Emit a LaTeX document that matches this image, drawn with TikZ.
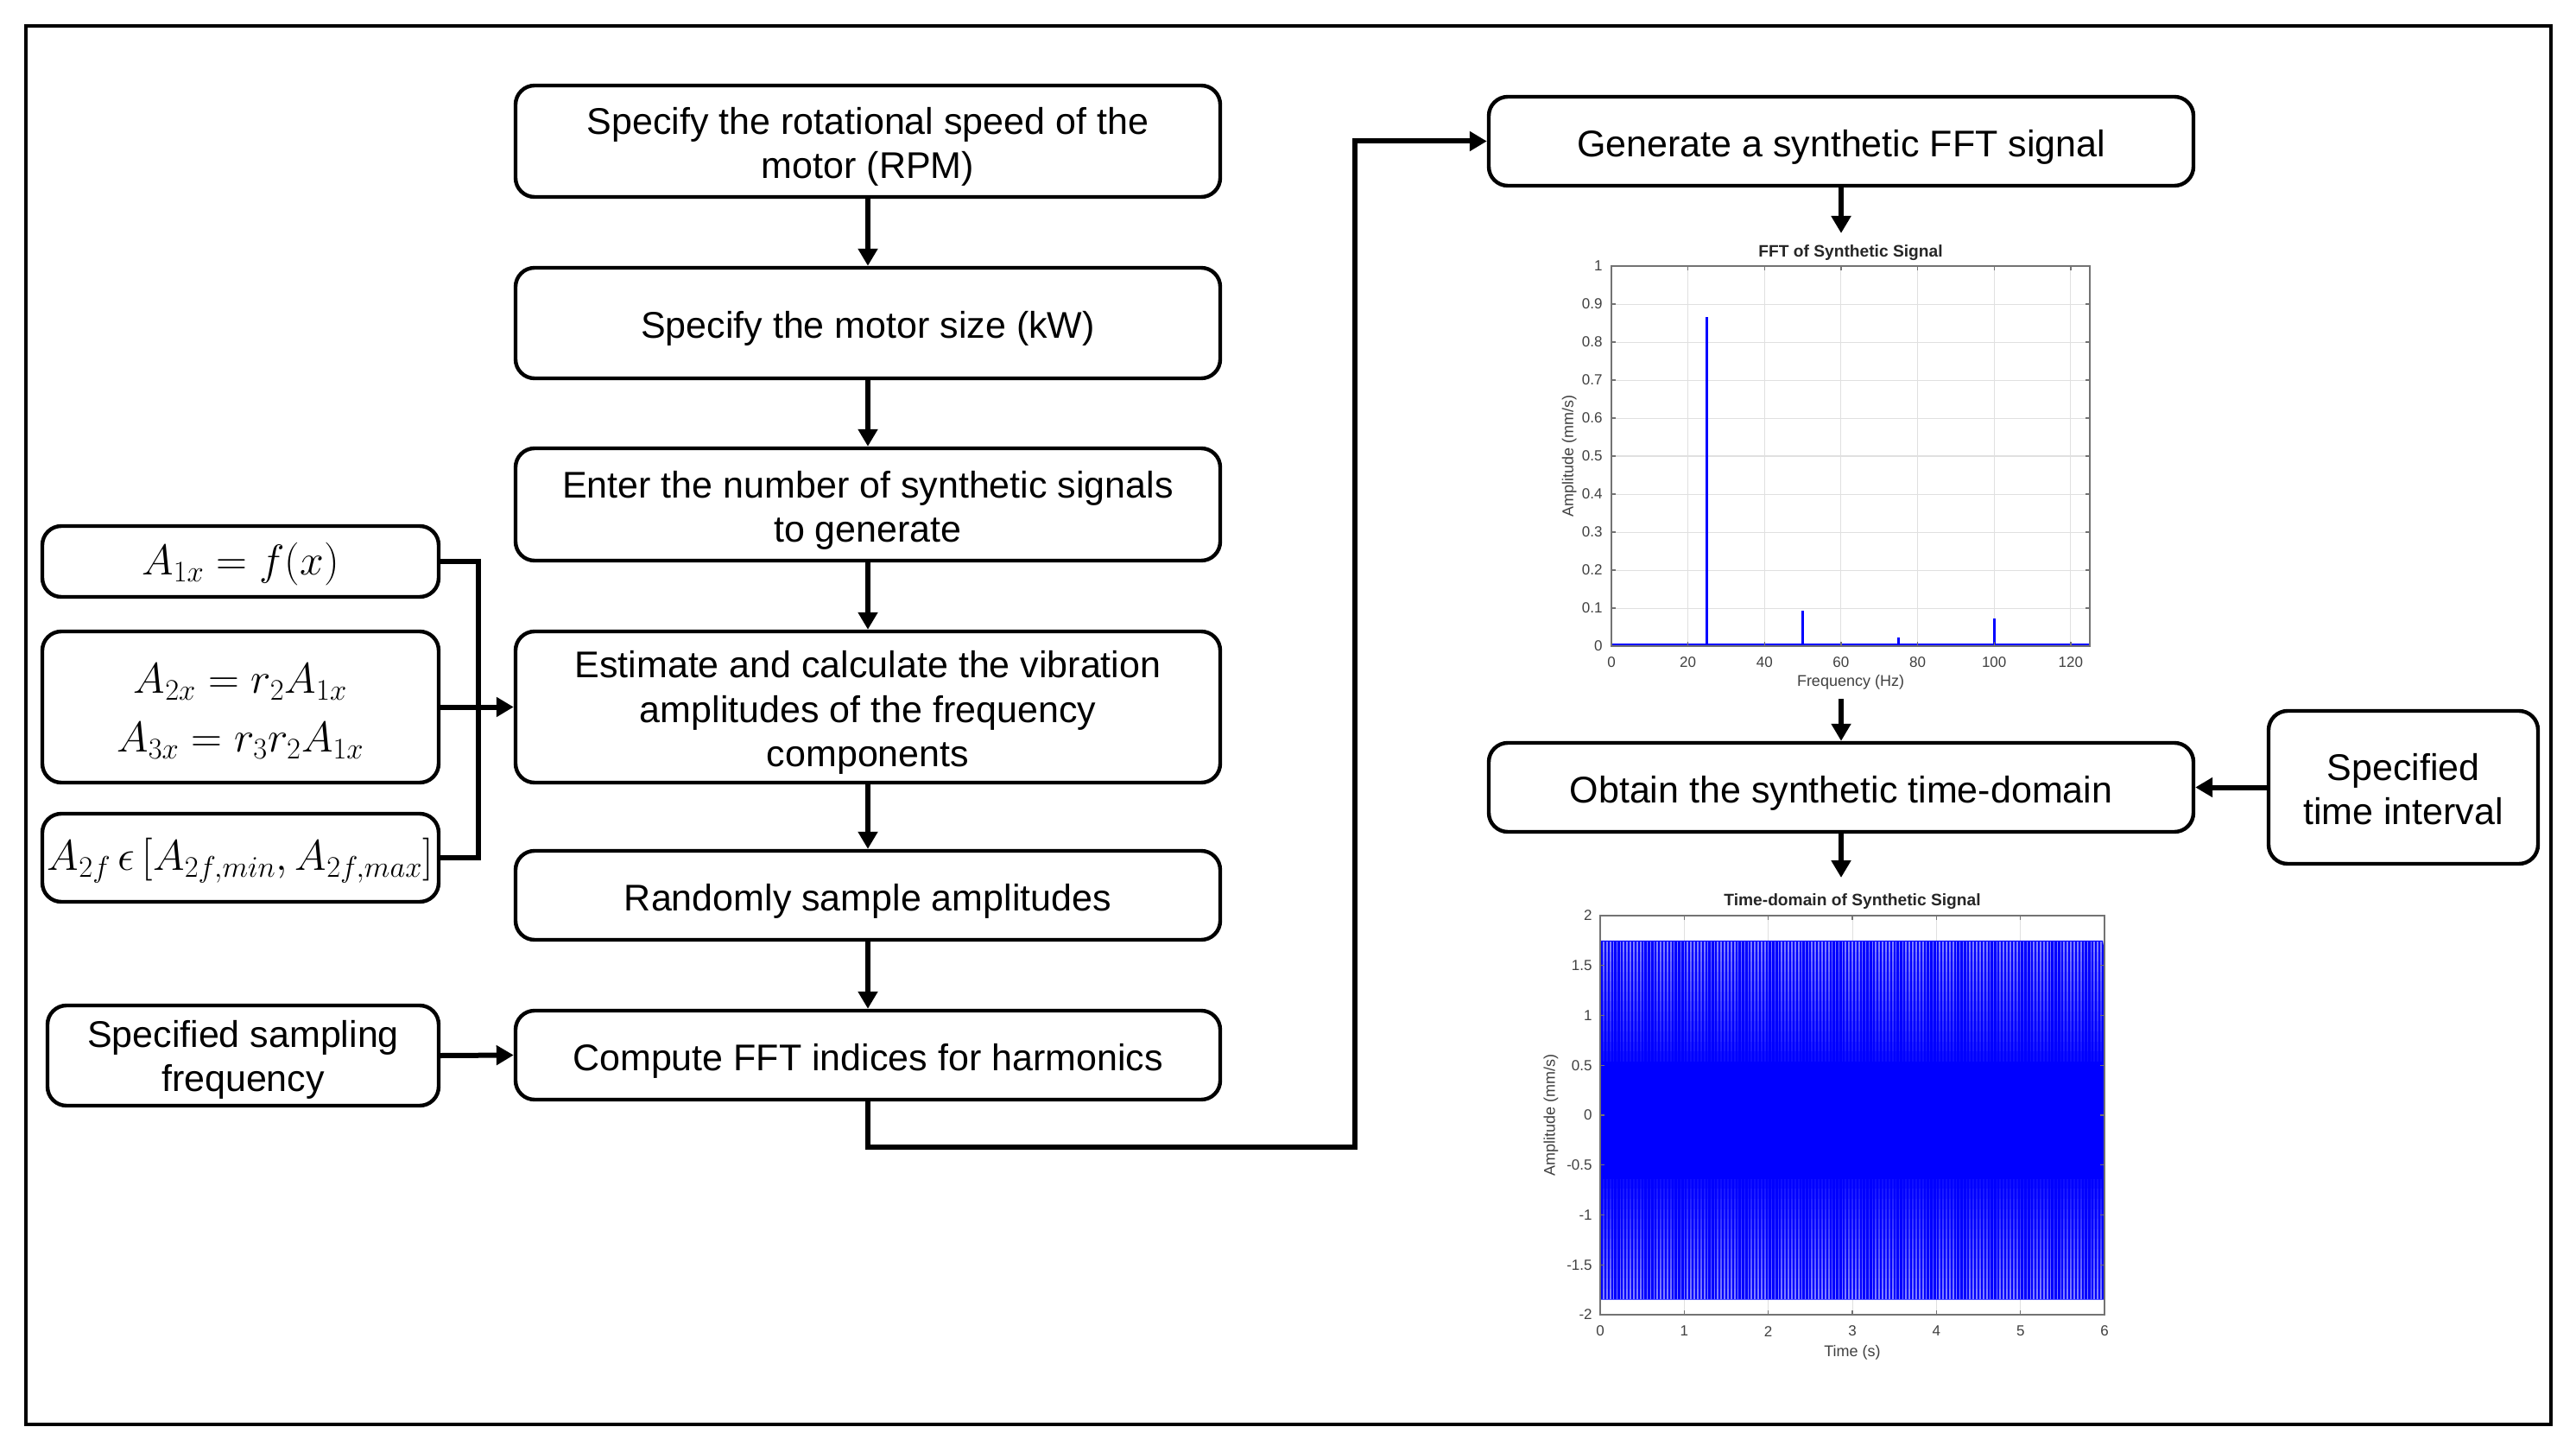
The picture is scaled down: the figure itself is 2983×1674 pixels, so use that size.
\documentclass[tikz,border=0pt]{standalone}
\usepackage{fontspec}
\setmainfont{Liberation Sans}
\usetikzlibrary{arrows.meta}
\newcommand{\fstrut}{\rule{0pt}{22.2pt}}
\newcommand{\mstrut}{\rule{0pt}{22pt}}
\begin{document}
\begin{tikzpicture}[x=0.5pt,y=-0.5pt,
  box/.style={draw, line width=2.2pt, rounded corners=11pt, align=center, inner sep=0pt, font=\fontsize{21.5}{25.7}\selectfont},
  mbox/.style={box, font=\fontsize{23}{28}\selectfont},
  conn/.style={line width=3pt},
  arr/.style={conn, -{Triangle[length=10pt,width=11pt]}},
  ticklab/.style={font=\fontsize{8.5}{10}\selectfont, text=black!75, inner sep=0.5pt},
  axlab/.style={font=\fontsize{9}{11}\selectfont, text=black!75, inner sep=0.5pt},
  ptitle/.style={font=\bfseries\fontsize{9.6}{11}\selectfont, text=black!85, inner sep=0.5pt},
  gridline/.style={black!12, line width=0.5pt},
  axbox/.style={black!55, line width=0.7pt}]
\useasboundingbox (0,0) rectangle (2983,1674);
\fill[white] (0,0) rectangle (2983,1674);
\draw[line width=2pt] (30,30) rectangle (2954,1649);

% main column
\node[box, minimum width=408pt, minimum height=64.5pt] (b1) at (1005,163.5) {\fstrut Specify the rotational speed of the\\motor (RPM)};
\node[box, minimum width=408pt, minimum height=64pt] (b2) at (1005,374) {\fstrut Specify the motor size (kW)};
\node[box, minimum width=408pt, minimum height=65pt] (b3) at (1005,584) {\fstrut Enter the number of synthetic signals\\to generate};
\node[box, minimum width=408pt, minimum height=87.5pt] (b4) at (1005,818.5) {\fstrut Estimate and calculate the vibration\\amplitudes of the frequency\\components};
\node[box, minimum width=408pt, minimum height=51.5pt] (b5) at (1005,1036.5) {\fstrut Randomly sample amplitudes};
\node[box, minimum width=408pt, minimum height=51.5pt] (b6) at (1005,1221.5) {\fstrut Compute FFT indices for harmonics};

% left column
\node[mbox, minimum width=229.5pt, minimum height=41pt] (l1) at (278.5,650) {\mstrut$A_{1x} = f(x)$};
\node[mbox, minimum width=229.5pt, minimum height=87.5pt] (l2) at (278.5,818.5) {\mstrut$A_{2x} = r_2A_{1x}$\\[6pt]$A_{3x} = r_3r_2A_{1x}$};
\node[mbox, minimum width=229.5pt, minimum height=51pt] (l3) at (278.5,993) {\mstrut$A_{2f}\,\epsilon\,[A_{2f,min},A_{2f,max}]$};
\node[box, minimum width=226.5pt, minimum height=58pt] (smp) at (281.5,1222) {\rule{0pt}{20.7pt}Specified sampling\\frequency};

% right column
\node[box, minimum width=408pt, minimum height=51.5pt] (gen) at (2132,163.5) {\fstrut Generate a synthetic FFT signal};
\node[box, minimum width=408pt, minimum height=51.5pt] (obt) at (2132,911.5) {\fstrut Obtain the synthetic time-domain};
\node[box, minimum width=156pt, minimum height=88.5pt] (tint) at (2783,911.5) {\rule{0pt}{17.5pt}Specified\\time interval};

% connectors
\draw[arr] (b1.south) -- (b2.north);
\draw[arr] (b2.south) -- (b3.north);
\draw[arr] (b3.south) -- (b4.north);
\draw[arr] (b4.south) -- (b5.north);
\draw[arr] (b5.south) -- (b6.north);
\coordinate (jx) at (554,818.5);
\draw[conn] (l1.east) -| (jx) |- (l3.east);
\draw[arr] (l2.east) -- (b4.west);
\draw[arr] (smp.east) -- (b6.west);
\coordinate (lp1) at (1005,1328);
\coordinate (lp2) at (1569,163.5);
\draw[arr] (b6.south) -- (lp1) -| (lp2) -- (gen.west);
\coordinate (fftin) at (2132,270);
\draw[arr] (gen.south) -- (fftin);
\coordinate (fftout) at (2132,809);
\draw[arr] (fftout) -- (obt.north);
\draw[arr] (tint.west) -- (obt.east);
\coordinate (tdin) at (2132,1016);
\draw[arr] (obt.south) -- (tdin);

% FFT plot
\begin{scope}[shift={(1866,748)}, x=2.216pt, y=220pt]
  \draw[gridline] foreach \f in {20,40,...,120} {(\f,0) -- (\f,1)};
  \draw[gridline] foreach \a in {1,...,9} {(0,\a/10) -- (125,\a/10)};
  \draw[blue, line width=1.5pt] (0,0.004) -- (125,0.004);
  \draw[blue, line width=1.6pt] (25,0) -- (25,0.865);
  \draw[blue, line width=1.6pt] (50,0) -- (50,0.093);
  \draw[blue, line width=1.6pt] (75,0) -- (75,0.022);
  \draw[blue, line width=1.6pt] (100,0) -- (100,0.073);
  \draw[axbox] (0,0) rectangle (125,1);
  \draw[axbox] foreach \f in {0,20,...,120} {(\f,0) -- ++(0pt,2.5pt) (\f,1) -- ++(0pt,-2.5pt)};
  \draw[axbox] foreach \a in {0,...,10} {(0,\a/10) -- ++(2.5pt,0pt) (125,\a/10) -- ++(-2.5pt,0pt)};
  \foreach \f in {0,20,...,120} {\node[ticklab] (fx\f) at (\f,-0.043) {\f};}
  \foreach \a/\l in {0/0,1/0.1,2/0.2,3/0.3,4/0.4,5/0.5,6/0.6,7/0.7,8/0.8,9/0.9,10/1}
    {\node[ticklab, anchor=east] (fy\a) at ([xshift=-4.5pt]0,\a/10) {\l};}
  \node[ptitle, anchor=south] (fftt) at ([yshift=2.5pt]62.5,1) {FFT of Synthetic Signal};
  \node[axlab] (fftxl) at (62.5,-0.095) {Frequency (Hz)};
  \node[axlab, rotate=90] (fftyl) at (-11,0.5) {Amplitude (mm/s)};
\end{scope}

% time-domain plot
\begin{scope}[shift={(1853,1291)}, x=48.67pt, y=57.75pt]
  \draw[gridline] foreach \t in {1,...,5} {(\t,-2) -- (\t,2)};
  \draw[gridline] foreach \a in {-3,...,3} {(0,\a/2) -- (6,\a/2)};
  \fill[blue] (0,-1.85) -- (0,1.75) -- (5.98,1.75) -- (6,1.62) -- (6,-1.85) -- cycle;
  \foreach \k in {0,...,11} {
    \pgfmathsetmacro{\ya}{1.74-0.1*\k}
    \pgfmathsetmacro{\yb}{1.74-0.1*(\k+1)}
    \pgfmathsetmacro{\za}{-1.84+0.1*\k}
    \pgfmathsetmacro{\zb}{-1.84+0.1*(\k+1)}
    \pgfmathsetmacro{\op}{0.5-0.04*\k}
    \draw[white, line width=0.8pt, opacity=\op] foreach \i in {1,...,149} {(\i*0.04,\ya) -- (\i*0.04,\yb) (\i*0.04,\za) -- (\i*0.04,\zb)};
  }
  \draw[axbox] (0,-2) rectangle (6,2);
  \draw[axbox] foreach \t in {0,...,6} {(\t,-2) -- ++(0pt,2.5pt) (\t,2) -- ++(0pt,-2.5pt)};
  \draw[axbox] foreach \a in {-4,...,4} {(0,\a/2) -- ++(2.5pt,0pt) (6,\a/2) -- ++(-2.5pt,0pt)};
  \foreach \t in {0,...,6} {\node[ticklab] (tx\t) at (\t,-2.165) {\t};}
  \foreach \a/\l [count=\k] in {-4/-2,-3/-1.5,-2/-1,-1/-0.5,0/0,1/0.5,2/1,3/1.5,4/2}
    {\node[ticklab, anchor=east] (ty\k) at ([xshift=-4pt]0,\a/2) {\l};}
  \node[ptitle, anchor=south] (tdt) at ([yshift=3pt]3,2) {Time-domain of Synthetic Signal};
  \node[axlab] (tdxl) at (3,-2.381) {Time (s)};
  \node[axlab, rotate=90] (tdyl) at (-0.586,0) {Amplitude (mm/s)};
\end{scope}
\end{tikzpicture}
\end{document}
